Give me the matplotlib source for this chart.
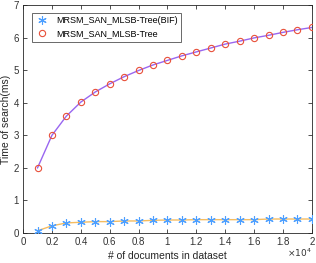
import matplotlib
matplotlib.use("Agg")
import matplotlib.pyplot as plt
from matplotlib.ticker import FuncFormatter

plt.rcParams['font.family'] = ['Liberation Sans', 'DejaVu Sans']

docs = [1000, 2000, 3000, 4000, 5000, 6000, 7000, 8000, 9000, 10000,
        11000, 12000, 13000, 14000, 15000, 16000, 17000, 18000, 19000, 20000]
tree_bif = [0.07, 0.22, 0.31, 0.33, 0.35, 0.35, 0.37, 0.37, 0.39, 0.40,
            0.40, 0.41, 0.41, 0.41, 0.41, 0.41, 0.43, 0.43, 0.43, 0.43]
tree = [2.0, 3.0, 3.59, 4.02, 4.33, 4.58, 4.80, 4.99, 5.16, 5.30,
        5.44, 5.56, 5.68, 5.80, 5.89, 5.99, 6.07, 6.16, 6.24, 6.31]

fig = plt.figure(figsize=(3.16, 2.63), dpi=100)
ax = fig.add_axes([0.073, 0.114, 0.914, 0.867])

ax.plot(docs, tree_bif, color='#f5bd62', linewidth=1, zorder=2)
ax.plot(docs, tree, color='#9966f0', linewidth=1, zorder=2)
# matlab-style asterisk: 6 spokes
ax.plot(docs, tree_bif, linestyle='none', marker=(6, 2, 0), markersize=6,
        markeredgecolor='#4d9fff', markeredgewidth=0.8,
        label='MRSM_SAN_MLSB-Tree(BIF)', zorder=3)
ax.plot(docs, tree, linestyle='none', marker='o', markersize=4.5,
        markerfacecolor='none', markeredgecolor='#e8503a', markeredgewidth=0.8,
        label='MRSM_SAN_MLSB-Tree', zorder=3)

ax.set_xlim(0, 20000)
ax.set_ylim(0, 7)
ax.set_xticks(range(0, 20001, 2000))
ax.xaxis.set_major_formatter(FuncFormatter(lambda v, p: f"{v / 1e4:g}"))
ax.set_yticks(range(0, 8))
ax.tick_params(direction='in', length=3, width=0.6, labelsize=7,
               top=True, right=True, colors='#333333', pad=3)
for s in ax.spines.values():
    s.set_linewidth(0.6)
    s.set_color('#262626')

ax.set_xlabel('# of documents in dataset', fontsize=7.5, color='#262626', labelpad=3)
ax.set_ylabel('Time of search(ms)', fontsize=7.5, color='#262626', labelpad=2)
fig.text(0.985, 0.015, r'$\times10^4$', fontsize=6.5, ha='right', va='bottom', color='#333333')

leg = ax.legend(loc='upper left', fontsize=6.5, frameon=True, fancybox=False,
                edgecolor='#262626', borderpad=0.35, handlelength=1.5,
                bbox_to_anchor=(0.015, 0.985))
leg.get_frame().set_linewidth(0.6)

fig.savefig('out.png', dpi=100)
